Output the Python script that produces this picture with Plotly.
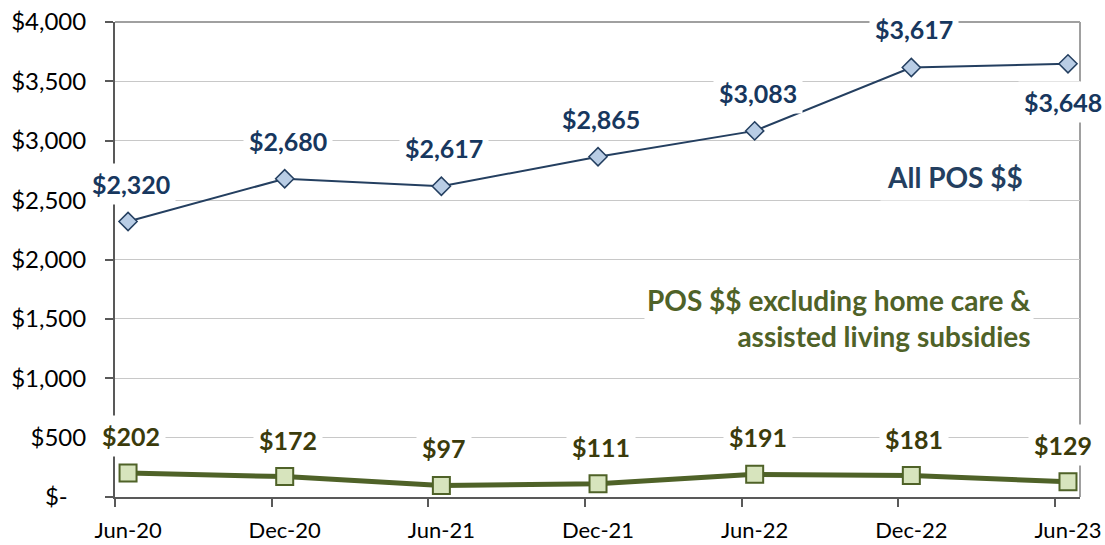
import plotly.graph_objects as go

categories = ["Jun-20", "Dec-20", "Jun-21", "Dec-21", "Jun-22", "Dec-22", "Jun-23"]
months = [0, 6, 12, 18, 24, 30, 36]
all_pos = [2320, 2680, 2617, 2865, 3083, 3617, 3648]
excl_pos = [202, 172, 97, 111, 191, 181, 129]
y_ticks = [0, 500, 1000, 1500, 2000, 2500, 3000, 3500, 4000]
y_tick_text = ["$-\u00a0\u00a0\u00a0", "$500", "$1,000", "$1,500", "$2,000",
               "$2,500", "$3,000", "$3,500", "$4,000"]

FONT = "Lato"
BLUE_LINE = "#243F60"
BLUE_FILL = "#B9CDE5"
BLUE_TEXT = "#17375E"
GREEN_LINE = "#4F6228"
GREEN_FILL = "#D7E4BD"
GREEN_TEXT = "#3B3B0B"

W, H = 1105, 545
L, R, T, B = 115, 25, 22, 48
pw, ph = W - L - R, H - T - B

fig = go.Figure()
fig.add_trace(go.Scatter(
    x=months, y=excl_pos, mode="lines+markers",
    line=dict(color=GREEN_LINE, width=5),
    marker=dict(symbol="square", size=17, color=GREEN_FILL,
                line=dict(color=GREEN_LINE, width=2)),
    showlegend=False, hoverinfo="skip"))
fig.add_trace(go.Scatter(
    x=months, y=all_pos, mode="lines+markers",
    line=dict(color=BLUE_LINE, width=2),
    marker=dict(symbol="diamond", size=14, color=BLUE_FILL,
                line=dict(color=BLUE_LINE, width=1.5)),
    showlegend=False, hoverinfo="skip"))

annotations = []
for i, (m, v) in enumerate(zip(months, all_pos)):
    below = (i == len(months) - 1)
    annotations.append(dict(
        x=m, y=v, xref="x", yref="y", text=f"${v:,}", showarrow=False,
        yshift=-38 if below else 38, xshift=-5 if below else 3,
        font=dict(family=FONT, size=25, color=BLUE_TEXT, weight="bold"),
        bgcolor="white", borderpad=5))
for i, (m, v) in enumerate(zip(months, excl_pos)):
    annotations.append(dict(
        x=m, y=v, xref="x", yref="y", text=f"${v:,}", showarrow=False,
        yshift=37, xshift=-5 if i == len(months) - 1 else 3,
        font=dict(family=FONT, size=25, color=GREEN_TEXT, weight="bold"),
        bgcolor="white", borderpad=5))

# caption placements in window pixels
captions = [
    dict(px=955, py=177, text="All POS $$", color=BLUE_LINE, anchor="center", align="center", pad=6),
    dict(px=1034, py=318, text="POS $$ excluding home care &<br>assisted living subsidies",
         color=GREEN_LINE, anchor="right", align="right", pad=2),
]
for c in captions:
    annotations.append(dict(
        x=(c["px"] - L) / pw, y=(H - B - c["py"]) / ph,
        xref="paper", yref="paper", text=c["text"], showarrow=False,
        xanchor=c["anchor"], yanchor="middle", align=c["align"],
        font=dict(family=FONT, size=28, color=c["color"], weight="bold"),
        bgcolor="white", borderpad=c["pad"]))

fig.update_layout(
    width=W, height=H,
    margin=dict(l=L, r=R, t=T, b=B, autoexpand=False),
    plot_bgcolor="white", paper_bgcolor="white",
    font=dict(family=FONT, size=24, color="black"),
    annotations=annotations,
    xaxis=dict(
        range=[-0.5, 36.46], tickvals=months, ticktext=categories,
        ticks="", showgrid=False, zeroline=False, automargin=False,
        showline=True, linecolor="#595959", linewidth=2, mirror=False,
        tickfont=dict(family=FONT, size=22, color="black"),
        ticklabelstandoff=13, ticklabeloverflow="allow",
        minor=dict(tickvals=[m - 0.5 for m in months], ticks="outside",
                   ticklen=8, tickcolor="#595959", tickwidth=1.5, showgrid=False),
    ),
    yaxis=dict(
        range=[0, 4000], tickvals=y_ticks, ticktext=y_tick_text,
        ticks="outside", ticklen=8, tickcolor="#595959", tickwidth=1.5,
        showgrid=True, gridcolor="#C8C8C8", gridwidth=1, zeroline=False,
        showline=True, linecolor="#595959", linewidth=2, automargin=False,
        tickfont=dict(family=FONT, size=24, color="black"),
        ticklabelstandoff=14, ticklabeloverflow="allow",
    ),
    shapes=[
        dict(type="line", xref="paper", yref="paper", x0=0, x1=1, y0=1, y1=1,
             line=dict(color="#A0A0A0", width=2), layer="below"),
        dict(type="line", xref="paper", yref="paper", x0=1, x1=1, y0=0, y1=1,
             line=dict(color="#A0A0A0", width=2), layer="below"),
    ],
)

fig.write_html(
    "out.html",
    config={"displayModeBar": False},
    post_script="document.body.style.margin='0';document.body.style.overflow='hidden';",
)
